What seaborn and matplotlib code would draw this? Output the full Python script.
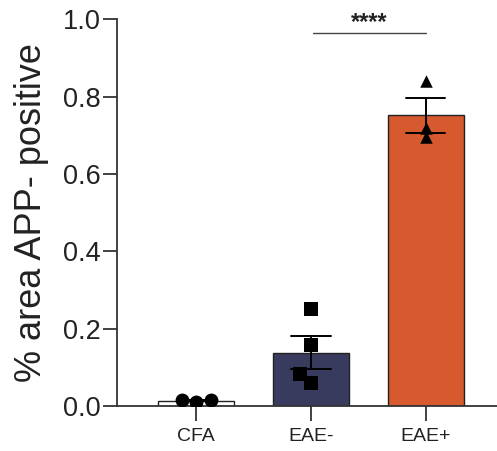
import numpy as np
import pandas as pd
import matplotlib
matplotlib.use("Agg")
import matplotlib.pyplot as plt
import seaborn as sns

# Data
groups = ["CFA", "EAE-", "EAE+"]
cfa_vals = [0.010, 0.015, 0.015]
eae_neg_vals = [0.250, 0.158, 0.083, 0.060]
eae_pos_vals = [0.840, 0.720, 0.695]
bar_colors = ["#ffffff", "#383a5e", "#d65a2e"]
point_markers = ["o", "s", "^"]
swarm_groups = ["CFA", "EAE-"]  # EAE+ points sit stacked in the original

sns.set_theme(style="ticks")
plt.rcParams["font.family"] = ["Liberation Sans", "DejaVu Sans"]

df = pd.DataFrame({
    "group": ["CFA"] * len(cfa_vals) + ["EAE-"] * len(eae_neg_vals) + ["EAE+"] * len(eae_pos_vals),
    "value": cfa_vals + eae_neg_vals + eae_pos_vals,
})

fig = plt.figure(figsize=(4.97, 4.51), dpi=100)
ax = fig.add_axes([0.2354, 0.0998, 0.7646, 0.857])

sns.barplot(data=df, x="group", y="value", hue="group", order=groups, hue_order=groups,
            palette=bar_colors, legend=False, errorbar="se", capsize=0.34, width=0.66,
            err_kws={"color": "black", "linewidth": 1.4}, edgecolor="#222222",
            linewidth=1.0, saturation=1, ax=ax)

for g, m in zip(groups, point_markers):
    sub = df[df["group"] == g]
    if g in swarm_groups:
        sns.swarmplot(x=sub["group"], y=sub["value"], order=groups, marker=m, size=10,
                      color="black", ax=ax, zorder=5)
    else:
        sns.stripplot(x=sub["group"], y=sub["value"], order=groups, marker=m, size=9,
                      jitter=False, color="black", ax=ax, zorder=5)

# significance bar
ax.plot([1.02, 2.0], [0.964, 0.964], color="#444444", lw=1.0, clip_on=False)
ax.text(1.51, 0.962, "****", ha="center", va="bottom", fontsize=17,
        fontweight="bold", color="#222222")

ax.set_ylim(0, 1.0)
ax.set_xlim(-0.69, 2.62)
ax.set_yticks([0.0, 0.2, 0.4, 0.6, 0.8, 1.0])
ax.set_yticklabels(["0.0", "0.2", "0.4", "0.6", "0.8", "1.0"])
ax.set_xlabel("")
ax.set_ylabel("% area APP- positive", fontsize=26, color="#222222", labelpad=10)

sns.despine(ax=ax)
for s in ["left", "bottom"]:
    ax.spines[s].set_linewidth(1.3)
    ax.spines[s].set_color("#333333")
ax.tick_params(axis="y", length=10, width=1.3, color="#333333", labelsize=19.5,
               labelcolor="#222222", pad=2)
ax.tick_params(axis="x", length=11, width=1.3, color="#333333", labelsize=14,
               labelcolor="#222222", pad=5)

fig.savefig("out.png", dpi=100)
